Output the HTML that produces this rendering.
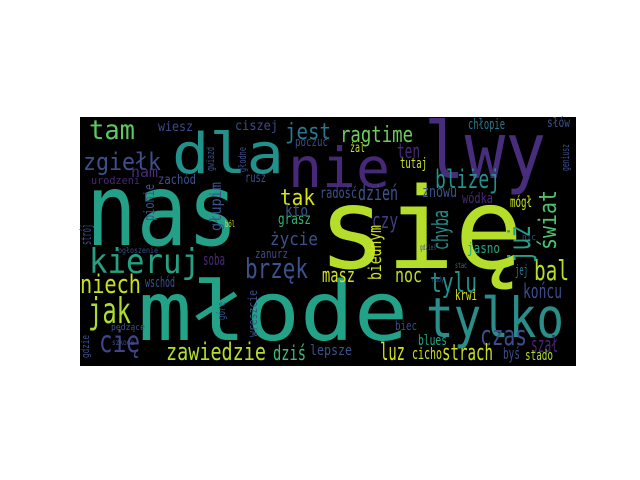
<!DOCTYPE html>
<html><head><meta charset="utf-8"><style>
html,body{margin:0;padding:0;background:#fff;}
svg{display:block}
text{font-family:"DejaVu Sans Mono","Liberation Mono",monospace;}
</style></head><body>
<svg width="640" height="480" viewBox="0 0 640 480">
<rect x="80" y="117" width="496" height="249" fill="#000"/>
<g id="words"></g>
</svg>
<script>
// word, x, baseline, size, width, color
const words = ["nas","się","młode","dla","nie","lwy","tylko","tam","zgiełk","kieruj","jak","niech","cię","zawiedzie","dziś","ragtime","jest","bliżej","brzęk","tak","tylu","bal","końcu","czas","strach","luz","noc","czy","dzień","ten","życie","szał","wiesz","ciszej","nam","urodzeni","zachód","rusz","poczuć","kto","grasz","soba","wschód","zanurz","masz","lepsze","chłopie","słów","żal","tutaj","znowu","wódka","radość","mógł","jej","krwi","biec","blues","cicho","byś","stado","jasno","ból","nic","stac","nudy","gdzieś","pędzące","szkoda","ogłoszenie"];
const xs = [86,318,138,172,288,424,426,89,83,89,88,80,99,166,273,340,285,435,245,280,430,534,523,480,442,380,395,372,358,397,270,531,158,235,131,91,158,245,295,285,278,203,145,255,322,310,468,547,350,400,422,462,320,510,515,455,395,418,412,503,525,467,225,522,455,432,420,111,112,118];
const ys = [245,268,340,173,187,178,337,139,170,273,323,293,352,360,360,142,139,188,278,205,292,280,298,345,360,360,282,228,200,158,245,352,131,130,177,184,184,182,146,216,224,265,287,258,282,355,129,127,152,168,197,203,198,207,275,300,330,345,359,359,360,253,227,240,268,282,250,330,345,253];
const sizes = [100,112,82,56,55,78,55,27,24,34,36,26,30,24,20,22,22,26,28,22,28,28,20,28,22,24,20,22,20,20,18,22,13,13,15,11,13,13,12,16,15,16,14,12,20,14,14,13,13,14,16,14,15,15,14,14,12,14,16,16,14,14,9,9,8,8,8,9,8,8];
const widths = [152,205,270,112,102,122,138,46,78,111,43,61,41,100,33,73,46,65,63,35,47,35,39,47,51,25,27,26,40,23,48,27,35,43,27,49,38,21,33,23,33,22,30,33,33,42,37,23,15,27,35,31,37,22,13,22,22,29,30,17,28,33,10,14,12,12,16,34,22,40];
const colors = ["#23a087","#b5de2b","#22a287","#21918c","#482878","#472d7b","#2a8d8a","#5ec962","#3e4f8a","#26a083","#addc30","#c8e020","#414487","#b5de2b","#40bd72","#6ccd5a","#2a788e","#21918c","#3b528b","#d8e219","#22928c","#b5de2b","#3e4c8a","#3e4c8a","#c8e020","#d2e21b","#c2df23","#433e85","#3b528b","#482878","#3b528b","#482475","#3e4c8a","#3e4c8a","#472d7b","#482878","#3b528b","#3b528b","#3e4c8a","#3b528b","#35b779","#482878","#3b528b","#3e4c8a","#d2e21b","#3b528b","#2a788e","#3b528b","#bddf26","#c8e020","#3b528b","#482878","#3b528b","#c8e020","#2a788e","#d8e219","#3e4c8a","#22a884","#c8e020","#3e4c8a","#addc30","#22a884","#d8e219","#3b528b","#2a788e","#3e4c8a","#3e4c8a","#3b528b","#3b528b","#3e4c8a"];
// vertical words: word, right-edge x, bottom y, size, length, color
const vWords = ["świat","już","biednym","chyba","głupim","pionie","strój","gwiazd","głodne","geniusz","wreszcie","gdzie","góre"];
const vX = [556,530,381,448,221,154,91,214,246,569,257,89,225];
const vY = [250,263,280,250,231,221,245,171,172,171,337,358,320];
const vSize = [24,30,18,22,15,14,14,11,11,11,12,11,11];
const vLen = [60,38,55,40,49,37,21,24,25,27,47,23,18];
const vColors = ["#4ac16d","#23a087","#d2e21b","#21918c","#3b528b","#3b528b","#3b528b","#3b528b","#3e4c8a","#3b528b","#3b528b","#3b528b","#3b528b"];
const g = document.getElementById('words');
const NS = 'http://www.w3.org/2000/svg';
for (let i = 0; i < xs.length; i++) {
  const t = document.createElementNS(NS, 'text');
  
  
  t.setAttribute('x', xs[i]);
  t.setAttribute('y', ys[i]);
  t.setAttribute('font-size', sizes[i]);
  t.setAttribute('fill', colors[i]);
  t.setAttribute('textLength', widths[i]);
  t.setAttribute('lengthAdjust', 'spacingAndGlyphs');
  t.textContent = words[i];
  g.appendChild(t);
}
for (let i = 0; i < vWords.length; i++) {
  const t = document.createElementNS(NS, 'text');
  
  
  t.setAttribute('x', 0);
  t.setAttribute('y', 0);
  t.setAttribute('transform', 'translate(' + vX[i] + ',' + vY[i] + ') rotate(-90)');
  t.setAttribute('font-size', vSize[i]);
  t.setAttribute('fill', vColors[i]);
  t.setAttribute('textLength', vLen[i]);
  t.setAttribute('lengthAdjust', 'spacingAndGlyphs');
  t.textContent = vWords[i];
  g.appendChild(t);
}
</script>
</body></html>
